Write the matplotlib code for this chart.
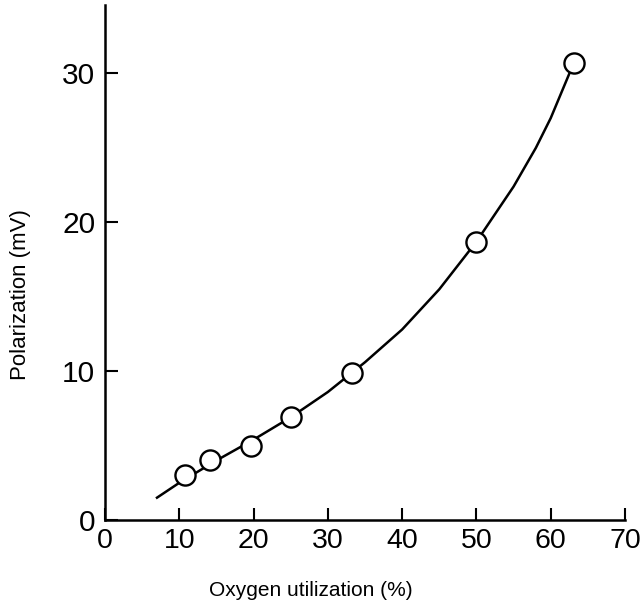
import numpy as np
import matplotlib.pyplot as plt

plt.rcParams['font.family'] = ['Liberation Sans', 'DejaVu Sans']

# measured points
util = [10.8, 14.1, 19.6, 25.0, 33.2, 50.0, 63.1]
polar = [3.0, 4.0, 5.0, 6.9, 9.9, 18.7, 30.7]

# fitted curve
curve_x = [7.0, 10, 15, 20, 25, 30, 35, 40, 45, 50, 55, 58, 60, 63.1]
curve_y = [1.5, 2.5, 4.0, 5.4, 6.9, 8.6, 10.6, 12.8, 15.5, 18.7, 22.4, 25.0, 27.0, 30.7]

xticks = [0, 10, 20, 30, 40, 50, 60, 70]
yticks = [0, 10, 20, 30]

fig = plt.figure(figsize=(6.42, 6.06), dpi=100)
ax = fig.add_axes([105 / 642, 86 / 606, 520 / 642, 515 / 606])

ax.plot(curve_x, curve_y, color='black', lw=1.8)
ax.plot(util, polar, 'o', ms=14.5, mfc='white', mec='black', mew=1.7)

ax.set_xlim(0, 70)
ax.set_ylim(0, 34.6)
ax.set_xticks(xticks)
ax.set_yticks(yticks)
ax.tick_params(direction='in', length=9, width=1.5)
ax.tick_params(axis='y', labelsize=21.5, pad=7)
ax.tick_params(axis='x', labelsize=20.5, pad=6)

for s in ['top', 'right']:
    ax.spines[s].set_visible(False)
for s in ['left', 'bottom']:
    ax.spines[s].set_linewidth(1.8)

ax.set_xlabel('Oxygen utilization (%)', fontsize=15)
ax.set_ylabel('Polarization (mV)', fontsize=16)
ax.xaxis.set_label_coords(0.396, -0.118)
ax.yaxis.set_label_coords(-0.142, 0.438)

fig.savefig('out.png', dpi=100)
